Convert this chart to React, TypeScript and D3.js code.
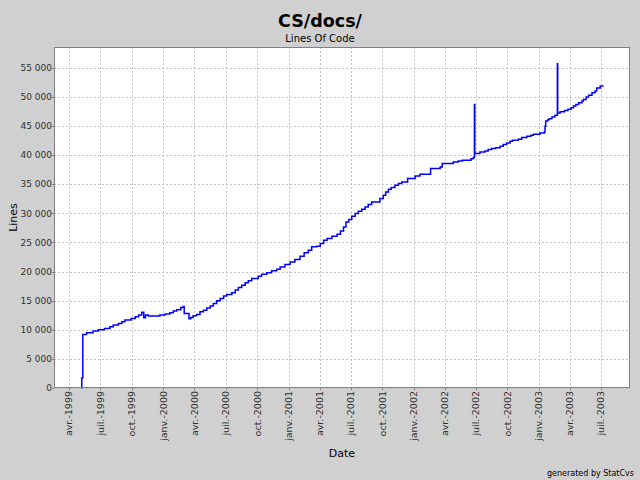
import React from "react";
import * as d3 from "d3";

// ---- data ----
const dates: string[] = [
  "1999-05-07", "1999-05-08", "1999-05-11", "1999-05-22", "1999-06-10", "1999-06-25",
  "1999-07-13", "1999-07-29", "1999-08-08", "1999-08-23", "1999-09-02", "1999-09-11",
  "1999-09-29", "1999-10-11", "1999-10-21", "1999-10-30", "1999-11-05", "1999-11-10",
  "1999-11-18", "1999-12-22", "2000-01-06", "2000-01-20", "2000-01-30", "2000-02-09",
  "2000-02-21", "2000-02-28", "2000-03-02", "2000-03-16", "2000-03-21", "2000-03-28",
  "2000-04-07", "2000-04-17", "2000-04-27", "2000-05-07", "2000-05-17", "2000-05-26",
  "2000-06-05", "2000-06-15", "2000-06-25", "2000-07-04", "2000-07-19", "2000-07-29",
  "2000-08-07", "2000-08-17", "2000-08-27", "2000-09-05", "2000-09-15", "2000-10-04",
  "2000-10-14", "2000-10-29", "2000-11-12", "2000-11-27", "2000-12-07", "2000-12-21",
  "2001-01-05", "2001-01-19", "2001-02-03", "2001-02-15", "2001-02-27", "2001-03-09",
  "2001-03-24", "2001-04-03", "2001-04-13", "2001-04-23", "2001-05-07", "2001-05-22",
  "2001-06-01", "2001-06-10", "2001-06-17", "2001-06-25", "2001-07-04", "2001-07-14",
  "2001-07-23", "2001-08-02", "2001-08-12", "2001-08-21", "2001-08-31", "2001-09-24",
  "2001-10-04", "2001-10-11", "2001-10-19", "2001-10-27", "2001-11-07", "2001-11-17",
  "2001-11-27", "2001-12-14", "2002-01-05", "2002-01-19", "2002-02-19", "2002-03-19",
  "2002-03-25", "2002-04-26", "2002-05-11", "2002-05-23", "2002-06-17", "2002-06-24",
  "2002-06-27", "2002-06-28", "2002-07-13", "2002-07-28", "2002-08-06", "2002-08-16",
  "2002-08-28", "2002-09-10", "2002-09-19", "2002-09-29", "2002-10-09", "2002-10-16",
  "2002-11-02", "2002-11-12", "2002-11-27", "2002-12-09", "2002-12-16", "2003-01-04",
  "2003-01-17", "2003-01-19", "2003-01-21", "2003-01-27", "2003-01-31", "2003-02-08",
  "2003-02-17", "2003-02-24", "2003-02-25", "2003-03-04", "2003-03-17", "2003-03-27",
  "2003-04-05", "2003-04-12", "2003-04-19", "2003-04-27", "2003-05-07", "2003-05-11",
  "2003-05-19", "2003-05-26", "2003-06-05", "2003-06-14", "2003-06-19", "2003-06-29",
  "2003-07-09",
];
const linesOfCode: number[] = [
  0, 1700, 9200, 9490, 9780, 10000,
  10240, 10520, 10810, 11100, 11380, 11670,
  11960, 12240, 12530, 13000, 12070, 12530,
  12360, 12530, 12700, 12920, 13210, 13440,
  13850, 14020, 12820, 11900, 12130, 12400,
  12650, 13090, 13380, 13730, 14070, 14500,
  14980, 15390, 15790, 16080, 16350, 16820,
  17280, 17670, 18070, 18410, 18820, 19220,
  19560, 19790, 20130, 20420, 20810, 21220,
  21670, 22080, 22650, 23220, 23680, 24250,
  24370, 24830, 25400, 25680, 26080, 26430,
  26990, 27680, 28540, 28950, 29520, 29980,
  30370, 30720, 31110, 31520, 31970, 32550,
  33120, 33690, 34150, 34440, 34830, 35130,
  35400, 35980, 36430, 36720, 37700, 37980,
  38560, 38830, 39010, 39120, 39410, 39590,
  48730, 40270, 40550, 40720, 40960, 41130,
  41300, 41530, 41820, 42090, 42380, 42560,
  42730, 43020, 43240, 43420, 43590, 43810,
  43980, 44960, 45870, 46110, 46280, 46550,
  46850, 55720, 47240, 47480, 47700, 47880,
  48170, 48440, 48730, 49030, 49300, 49590,
  49990, 50280, 50740, 51020, 51530, 51870,
  51870,
];

const xDomain: string[] = ["1999-02-16", "2003-09-24"];
const yMax = 58590;
const yTicks: number[] = [0, 5000, 10000, 15000, 20000, 25000, 30000, 35000, 40000, 45000, 50000, 55000];
const monthNames: string[] = ["janv.", "févr.", "mars", "avr.", "mai", "juin", "juil.", "août", "sept.", "oct.", "nov.", "déc."];

const title = "CS/docs/";
const subtitle = "Lines Of Code";
const xLabel = "Date";
const yLabel = "Lines";
const footer = "generated by StatCvs";

const W = 640;
const H = 480;
const plot = { left: 54, right: 630, top: 47, bottom: 388 };
const FONT = "'DejaVu Sans', sans-serif";

export default function App() {
  const parse = d3.timeParse("%Y-%m-%d");
  const data = dates.map((d, i) => ({ date: parse(d) as Date, value: linesOfCode[i] }));

  const x = d3
    .scaleTime()
    .domain(xDomain.map((d) => parse(d) as Date))
    .range([plot.left, plot.right]);
  const y = d3.scaleLinear().domain([0, yMax]).range([plot.bottom, plot.top]);

  const xTicks = x.ticks(d3.timeMonth.every(3) as d3.TimeInterval);
  const fmtX = (d: Date) => `${monthNames[d.getMonth()]}-${d.getFullYear()}`;
  const locale = d3.formatLocale({ decimal: ",", thousands: " ", grouping: [3], currency: ["", " €"] });
  const fmtY = locale.format(",d");

  const line = d3
    .line<{ date: Date; value: number }>()
    .x((d) => x(d.date))
    .y((d) => y(d.value))
    .curve(d3.curveStepAfter);

  const pw = plot.right - plot.left;
  const ph = plot.bottom - plot.top;

  return (
    <svg
      width={W}
      height={H}
      style={{ position: "absolute", left: 0, top: 0, fontFamily: FONT }}
    >
      <rect x={0} y={0} width={W} height={H} fill="#d0d0d0" />
      <text x={W / 2} y={27} textAnchor="middle" fontSize={17.5} fontWeight="bold" fill="#000">
        {title}
      </text>
      <text x={W / 2} y={42} textAnchor="middle" fontSize={10} fill="#000">
        {subtitle}
      </text>

      <rect x={plot.left} y={plot.top} width={pw} height={ph} fill="#ffffff" />

      {/* grid */}
      {xTicks.map((t, i) => (
        <line
          key={"gx" + i}
          x1={Math.round(x(t)) + 0.5}
          x2={Math.round(x(t)) + 0.5}
          y1={plot.top}
          y2={plot.bottom}
          stroke="#c4c4c4"
          strokeDasharray="2,2"
        />
      ))}
      {yTicks.map((t, i) => (
        <line
          key={"gy" + i}
          x1={plot.left}
          x2={plot.right}
          y1={Math.round(y(t)) + 0.5}
          y2={Math.round(y(t)) + 0.5}
          stroke="#c4c4c4"
          strokeDasharray="2,2"
        />
      ))}

      {/* data line */}
      <path d={line(data) || ""} fill="none" stroke="#0000ff" strokeWidth={1.5} />

      {/* border */}
      <rect
        x={plot.left + 0.5}
        y={plot.top + 0.5}
        width={pw - 1}
        height={ph - 1}
        fill="none"
        stroke="#808080"
      />

      {/* y axis ticks and labels */}
      {yTicks.map((t, i) => (
        <g key={"yt" + i}>
          <line
            x1={plot.left - 2}
            x2={plot.left}
            y1={Math.round(y(t)) + 0.5}
            y2={Math.round(y(t)) + 0.5}
            stroke="#808080"
          />
          <text
            x={plot.left - 2}
            y={y(t)}
            dy="0.35em"
            textAnchor="end"
            fontSize={9}
            fill="#303030"
          >
            {fmtY(t)}
          </text>
        </g>
      ))}

      {/* x axis ticks and labels */}
      {xTicks.map((t, i) => (
        <g key={"xt" + i}>
          <line
            x1={Math.round(x(t)) + 0.5}
            x2={Math.round(x(t)) + 0.5}
            y1={plot.bottom}
            y2={plot.bottom + 2}
            stroke="#808080"
          />
          <text
            transform={`translate(${x(t)},${plot.bottom + 3}) rotate(-90)`}
            dy="0.35em"
            textAnchor="end"
            fontSize={9.5}
            fill="#303030"
          >
            {fmtX(t)}
          </text>
        </g>
      ))}

      <text x={(plot.left + plot.right) / 2} y={457} textAnchor="middle" fontSize={11} fill="#000">
        {xLabel}
      </text>
      <text
        transform={`translate(17,${(plot.top + plot.bottom) / 2}) rotate(-90)`}
        textAnchor="middle"
        fontSize={11}
        fill="#000"
      >
        {yLabel}
      </text>
      <text x={634} y={476} textAnchor="end" fontSize={8} fill="#000">
        {footer}
      </text>
    </svg>
  );
}
